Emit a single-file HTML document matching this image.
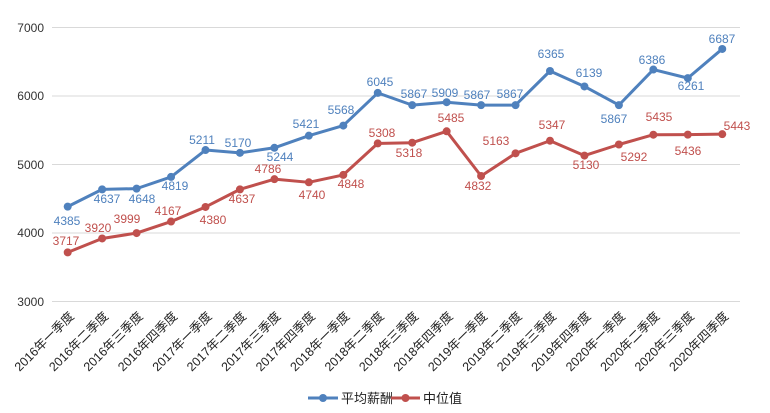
<!DOCTYPE html>
<html><head><meta charset="utf-8"><style>
html,body{margin:0;padding:0;background:#fff;}
svg{display:block;font-family:"Liberation Sans","Noto Sans CJK SC",sans-serif;}
</style></head><body>
<svg width="770" height="413" viewBox="0 0 770 413">
<g stroke="#d9d9d9" stroke-width="1">
<line x1="52" x2="740" y1="27.5" y2="27.5"/>
<line x1="52" x2="740" y1="96" y2="96"/>
<line x1="52" x2="740" y1="164.5" y2="164.5"/>
<line x1="52" x2="740" y1="233" y2="233"/>
<line x1="52" x2="740" y1="301.5" y2="301.5"/>
</g>
<g font-size="12" fill="#333" text-anchor="end">
<text x="44" y="32">7000</text>
<text x="44" y="100">6000</text>
<text x="44" y="169">5000</text>
<text x="44" y="237">4000</text>
<text x="44" y="306">3000</text>
</g>
<g id="chart"></g>
<g>
<line x1="308" x2="338" y1="398" y2="398" stroke="#4f81bd" stroke-width="3"/>
<circle cx="323" cy="398" r="4" fill="#4f81bd"/>
<text x="341" y="403" font-size="13" fill="#222">平均薪酬</text>
<line x1="391" x2="420" y1="398" y2="398" stroke="#c0504d" stroke-width="3"/>
<circle cx="405.5" cy="398" r="4" fill="#c0504d"/>
<text x="423" y="403" font-size="13" fill="#222">中位值</text>
</g>
</svg>
<script>
const blue=[4385,4637,4648,4819,5211,5170,5244,5421,5568,6045,5867,5909,5867,5867,6365,6139,5867,6386,6261,6687];
const red=[3717,3920,3999,4167,4380,4637,4786,4740,4848,5308,5318,5485,4832,5163,5347,5130,5292,5435,5436,5443];
const bl=[[67,221],[107,199],[142,199],[175,186],[202,140],[238,143],[280,157],[306,124],[341,110],[380,82],[414,94],[445,93],[477,95],[510,94],[551,54],[589,73],[614,119],[652,60],[691,86],[722,39]];
const rl=[[66,241],[98,228],[127,219],[168,211],[213,220],[242,199],[268,169],[312,195],[351,184],[382,133],[409,153],[451,118],[478,186],[496,141],[552,125],[586,165],[634,157],[659,117],[688,151],[737,126]];
const names=["2016年一季度","2016年二季度","2016年三季度","2016年四季度","2017年一季度","2017年二季度","2017年三季度","2017年四季度","2018年一季度","2018年二季度","2018年三季度","2018年四季度","2019年一季度","2019年二季度","2019年三季度","2019年四季度","2020年一季度","2020年二季度","2020年三季度","2020年四季度"];
const X=i=>67.7+i*34.45, Y=v=>301.5-(v-3000)*0.0685;
let s="";
function series(d,c,lab){
 s+=`<polyline fill="none" stroke="${c}" stroke-width="3" stroke-linejoin="round" points="${d.map((v,i)=>X(i)+","+Y(v)).join(" ")}"/>`;
 d.forEach((v,i)=>{s+=`<circle cx="${X(i)}" cy="${Y(v)}" r="4" fill="${c}"/>`;
 s+=`<text x="${lab[i][0]}" y="${lab[i][1]+4}" font-size="12" fill="${c}" text-anchor="middle">${v}</text>`;});
}
series(blue,"#4f81bd",bl);series(red,"#c0504d",rl);
names.forEach((n,i)=>{const x=X(i)+7,y=317;s+=`<text transform="translate(${x},${y}) rotate(-45)" font-size="12.5" fill="#222" text-anchor="end">${n}</text>`;});
document.getElementById("chart").innerHTML=s;
</script>
</body></html>
